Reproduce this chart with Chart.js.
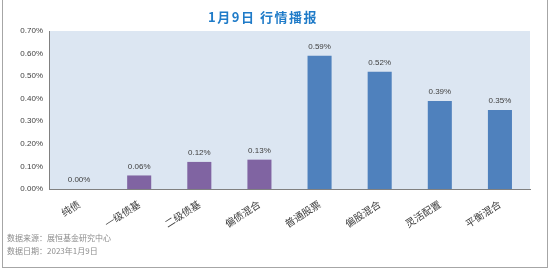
<!DOCTYPE html>
<html><head><meta charset="utf-8">
<script src="https://cdn.jsdelivr.net/npm/chart.js@4.4.0/dist/chart.umd.min.js"></script>
<style>html,body{margin:0;padding:0;background:#fff;}#wrap{position:relative;width:554px;height:271px;}</style>
</head><body><div id="wrap"><canvas id="c" width="554" height="271"></canvas></div>
<script>
const titleText = "1月9日 行情播报";
const categories = ["纯债","一级债基","二级债基","偏债混合","普通股票","偏股混合","灵活配置","平衡混合"];
const values = [0.00, 0.06, 0.12, 0.13, 0.59, 0.52, 0.39, 0.35];
const groups = ["bond","bond","bond","bond","equity","equity","equity","equity"];
const yTicks = [0,0.1,0.2,0.3,0.4,0.5,0.6,0.7];
const notes = ["数据来源：展恒基金研究中心","数据日期：2023年1月9日"];
const groupColors = {bond:"#8064A2", equity:"#4F81BD"};
const CJK = '"Noto Sans CJK SC","Noto Sans",sans-serif';

const decor = {
  id:'decor',
  beforeDraw(chart){
    const ctx = chart.ctx, a = chart.chartArea;
    ctx.save();
    ctx.fillStyle = '#fff';
    ctx.fillRect(0,0,chart.width,chart.height);
    ctx.fillStyle = '#DCE6F2';
    ctx.fillRect(a.left, a.top, a.right-a.left, a.bottom-a.top);
    ctx.restore();
  },
  afterDraw(chart){
    const ctx = chart.ctx, a = chart.chartArea;
    const x = chart.scales.x, y = chart.scales.y;
    ctx.save();
    ctx.strokeStyle = '#A6A6A6'; ctx.lineWidth = 1;
    ctx.strokeRect(2.5, -1.5, 545, 269);
    ctx.fillStyle = '#1F7BC8';
    ctx.font = 'bold 13px ' + CJK;
    ctx.letterSpacing = '1.5px';
    ctx.textAlign = 'center'; ctx.textBaseline = 'middle';
    ctx.fillText(titleText, 263, 17);
    ctx.letterSpacing = '0px';
    ctx.fillStyle = '#404040';
    ctx.font = '8px "Liberation Sans",Arial,sans-serif';
    ctx.textBaseline = 'bottom';
    values.forEach((v,i)=>{
      ctx.fillText(v.toFixed(2)+'%', x.getPixelForValue(i), y.getPixelForValue(v)-5);
    });
    ctx.fillStyle = '#8C8C8C';
    ctx.font = '8px ' + CJK;
    ctx.textAlign = 'left'; ctx.textBaseline = 'middle';
    ctx.fillText(notes[0], 7, 238);
    ctx.fillText(notes[1], 7, 251);
    ctx.restore();
  }
};

new Chart(document.getElementById('c'), {
  type:'bar',
  data:{ labels:categories, datasets:[{ data:values, backgroundColor:groups.map(g=>groupColors[g]), barPercentage:0.4, categoryPercentage:1.0 }] },
  options:{
    responsive:false, animation:false, devicePixelRatio:1,
    layout:{ padding:{ left:0, top:31, right:24, bottom:0 } },
    plugins:{ legend:{display:false}, tooltip:{enabled:false}, title:{display:false} },
    scales:{
      x:{
        grid:{ display:false, drawTicks:false },
        border:{ color:'#808080' },
        ticks:{ minRotation:33, maxRotation:33, padding:9, color:'#404040', font:{ family:CJK, size:10 } },
        afterFit(s){ s.height = 82; }
      },
      y:{
        min:0, max:0.7,
        afterBuildTicks(s){ s.ticks = yTicks.map(v=>({value:v})); },
        grid:{ display:false, drawTicks:false },
        border:{ color:'#808080' },
        ticks:{ padding:6, color:'#404040', font:{ family:'"Liberation Sans",Arial,sans-serif', size:8 }, callback:v=>Number(v).toFixed(2)+'%' },
        afterFit(s){ s.width = 49; }
      }
    }
  },
  plugins:[decor]
});
</script></body></html>
